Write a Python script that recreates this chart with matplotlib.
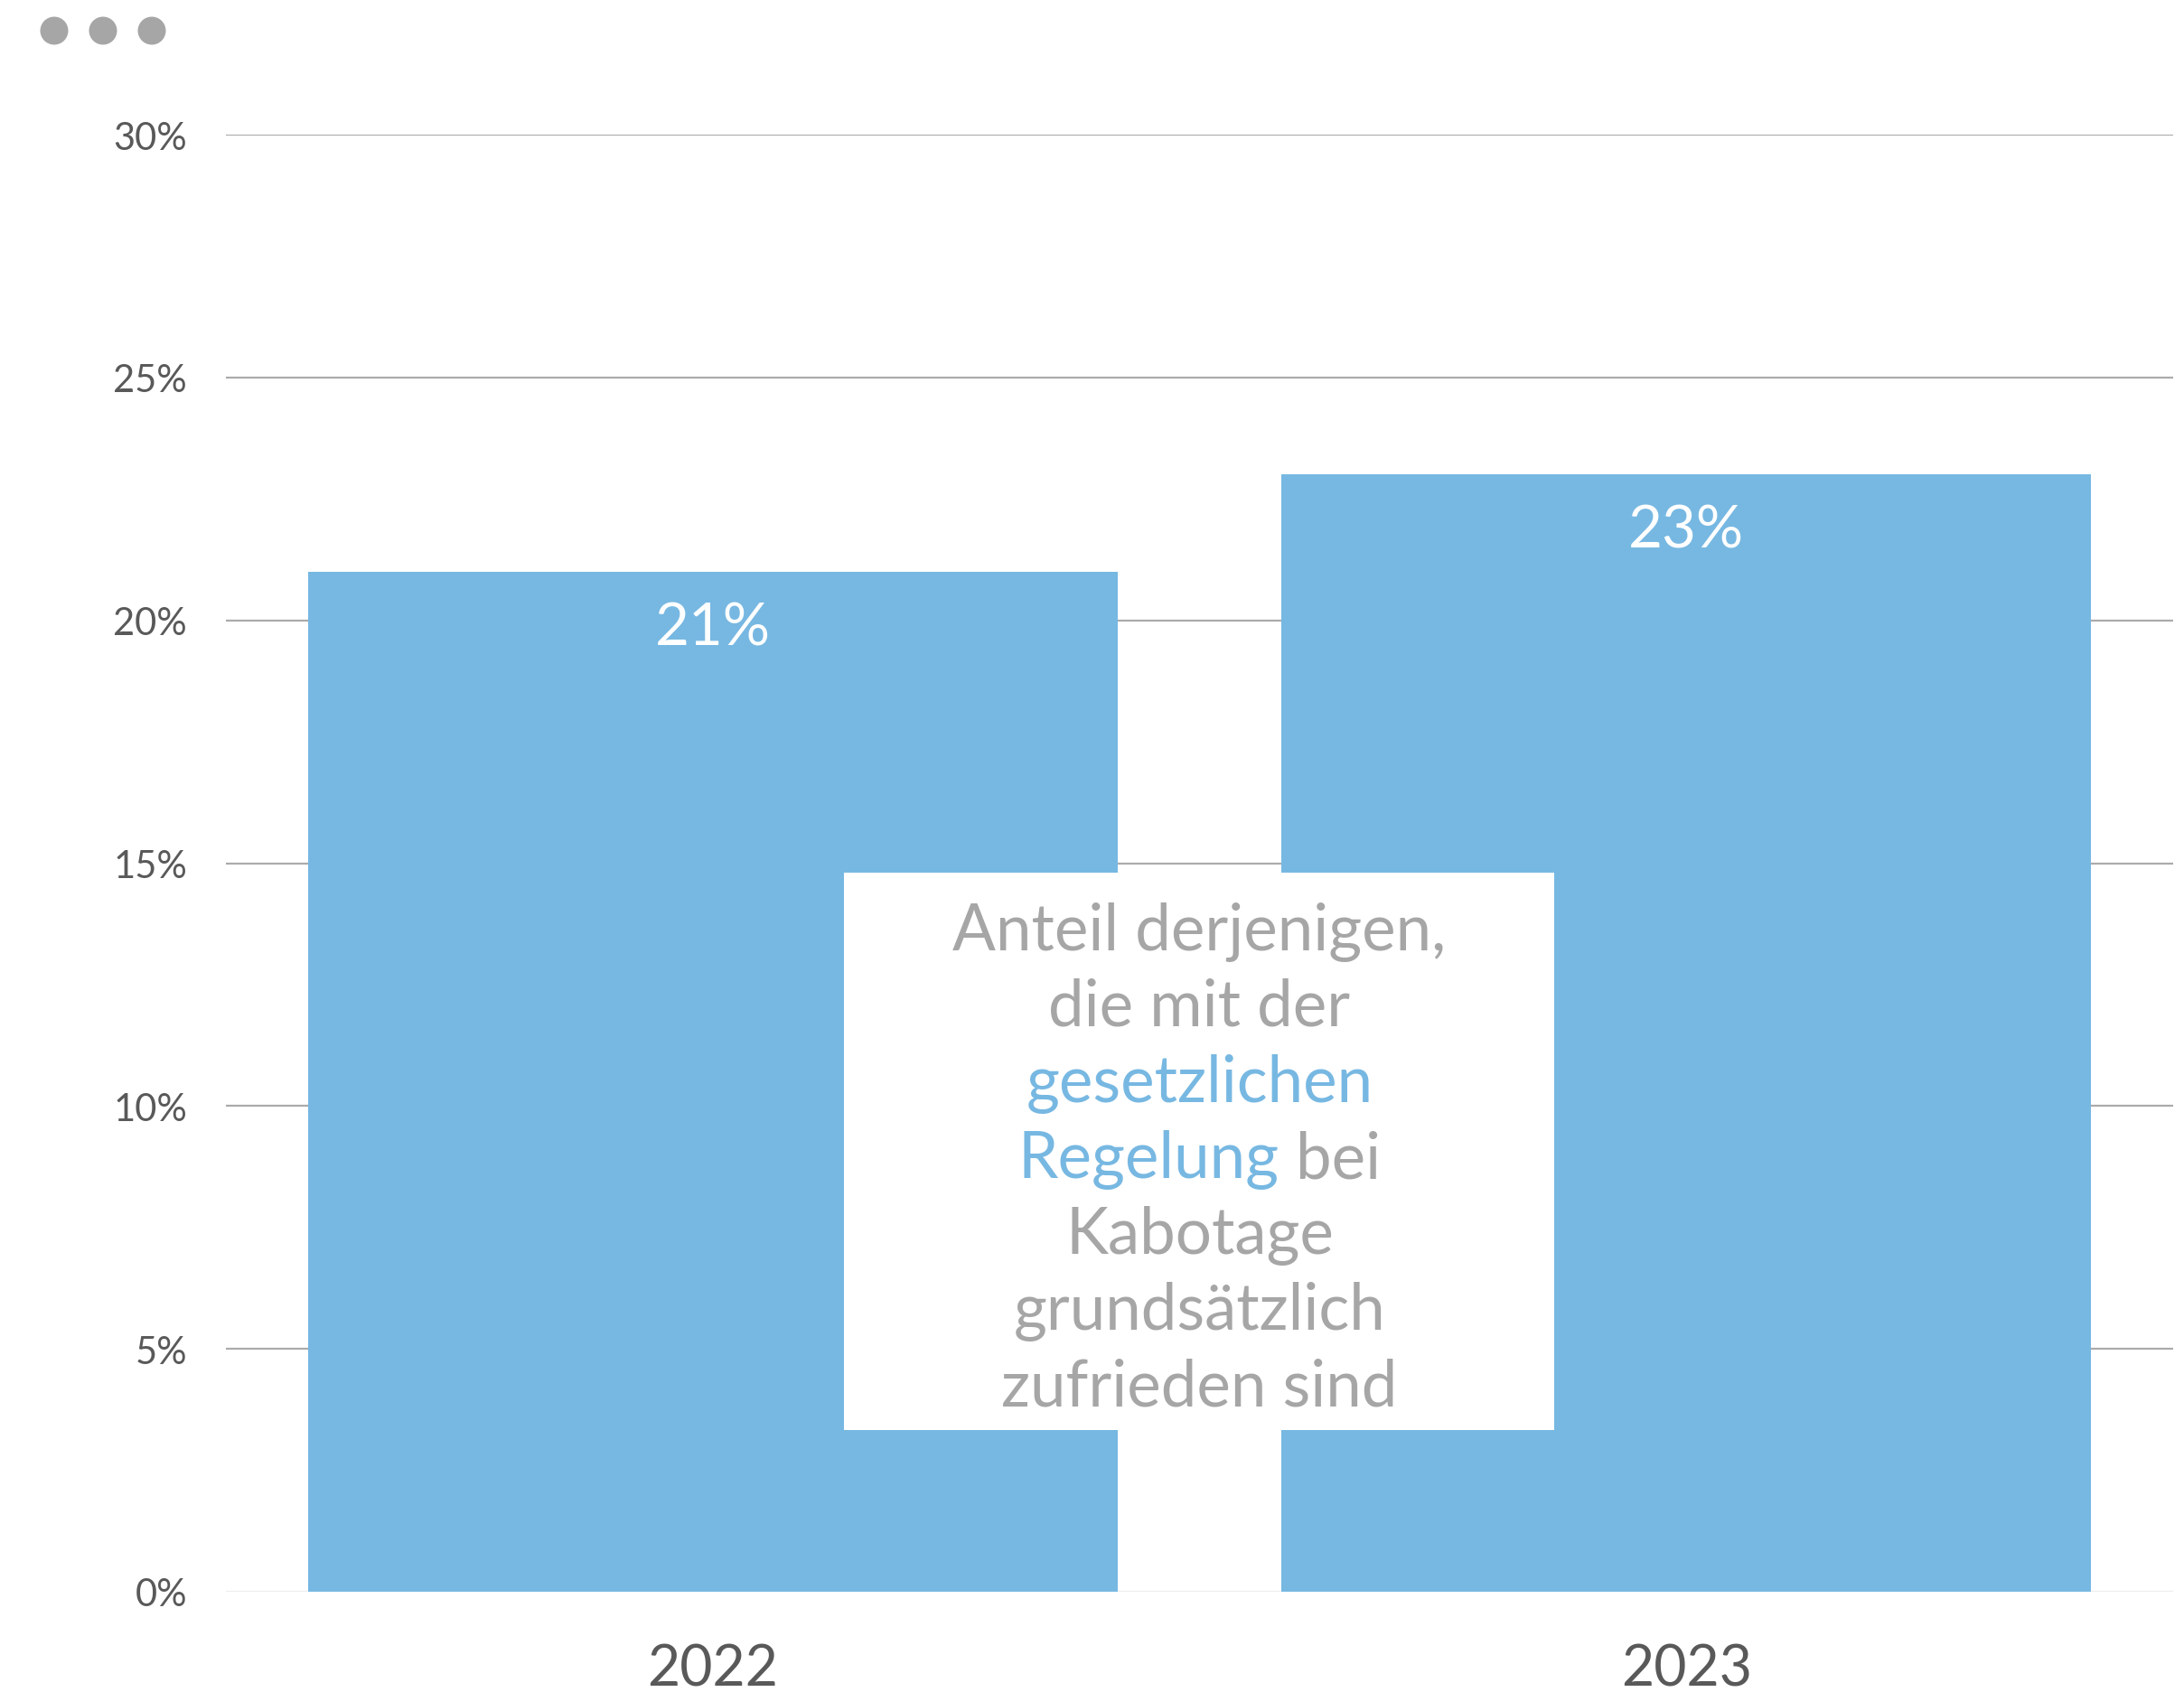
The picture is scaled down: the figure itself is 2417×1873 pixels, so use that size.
import matplotlib.pyplot as plt
from matplotlib.patches import Rectangle, Circle

years = ["2022", "2023"]
shares = [21, 23]
y_ticks = [0, 5, 10, 15, 20, 25, 30]
note_lines = ["Anteil derjenigen,", "die mit der", "gesetzlichen", "Regelung bei",
              "Kabotage", "grundsätzlich", "zufrieden sind"]

blue = "#77b8e2"
grey_text = "#a6a6a6"
dark = "#595959"

plt.rcParams['font.family'] = ['Lato', 'DejaVu Sans']

fig = plt.figure(figsize=(24.17, 18.74), dpi=100)
ax = fig.add_axes([250 / 2417, 1 - 1763 / 1874, 2155 / 2417, (1763 - 150) / 1874])

x = list(range(len(years)))
ax.bar(x, shares, width=0.832, color=blue, zorder=2)

for xi, v in zip(x, shares):
    ax.text(xi, v - 1.15, f"{v}%", ha='center', va='center', color='white', fontsize=47, zorder=3)

ax.set_xlim(-0.5, 1.5)
ax.set_ylim(0, 30)
ax.set_xticks(x)
ax.set_xticklabels(years, fontsize=45, color=dark)
ax.set_yticks(y_ticks)
ax.set_yticklabels([f"{t}%" for t in y_ticks], fontsize=30, color=dark)
ax.tick_params(axis='both', length=0)
ax.tick_params(axis='y', pad=31)
ax.tick_params(axis='x', pad=41)
for s in ax.spines.values():
    s.set_visible(False)
ax.set_axisbelow(True)
ax.yaxis.grid(True, color='#ababab', linewidth=1.6)
ax.get_ygridlines()[0].set_color('#eeeeee')

# white note box over the bars
ax.add_patch(Rectangle((0.135, 3.33), 0.729, 14.8 - 3.33, facecolor='white',
                       edgecolor='none', zorder=4))

fs_note = 51
y0, step = 13.23, 1.565
for i, line in enumerate(note_lines):
    y = y0 - i * step
    if line == "gesetzlichen":
        ax.text(0.5, y, line, ha='center', va='baseline', color=blue, fontsize=fs_note, zorder=5)
    elif line == "Regelung bei":
        # measure the whole line, then split it in two colours
        full = ax.text(0.5, y, line, ha='center', va='baseline', fontsize=fs_note)
        fig.canvas.draw()
        bb = full.get_window_extent().transformed(ax.transData.inverted())
        full.remove()
        ax.text(bb.x0, y, "Regelung", ha='left', va='baseline', color=blue, fontsize=fs_note, zorder=5)
        ax.text(bb.x1, y, "bei", ha='right', va='baseline', color=grey_text, fontsize=fs_note, zorder=5)
    else:
        ax.text(0.5, y, line, ha='center', va='baseline', color=grey_text, fontsize=fs_note, zorder=5)

# three menu dots top left
for cx in [60, 114, 168]:
    fig.patches.append(Circle((cx / 100, (1874 - 35) / 100), 0.155, transform=fig.dpi_scale_trans,
                              facecolor='#a6a6a6', edgecolor='none'))

fig.savefig("out.png", dpi=100)
